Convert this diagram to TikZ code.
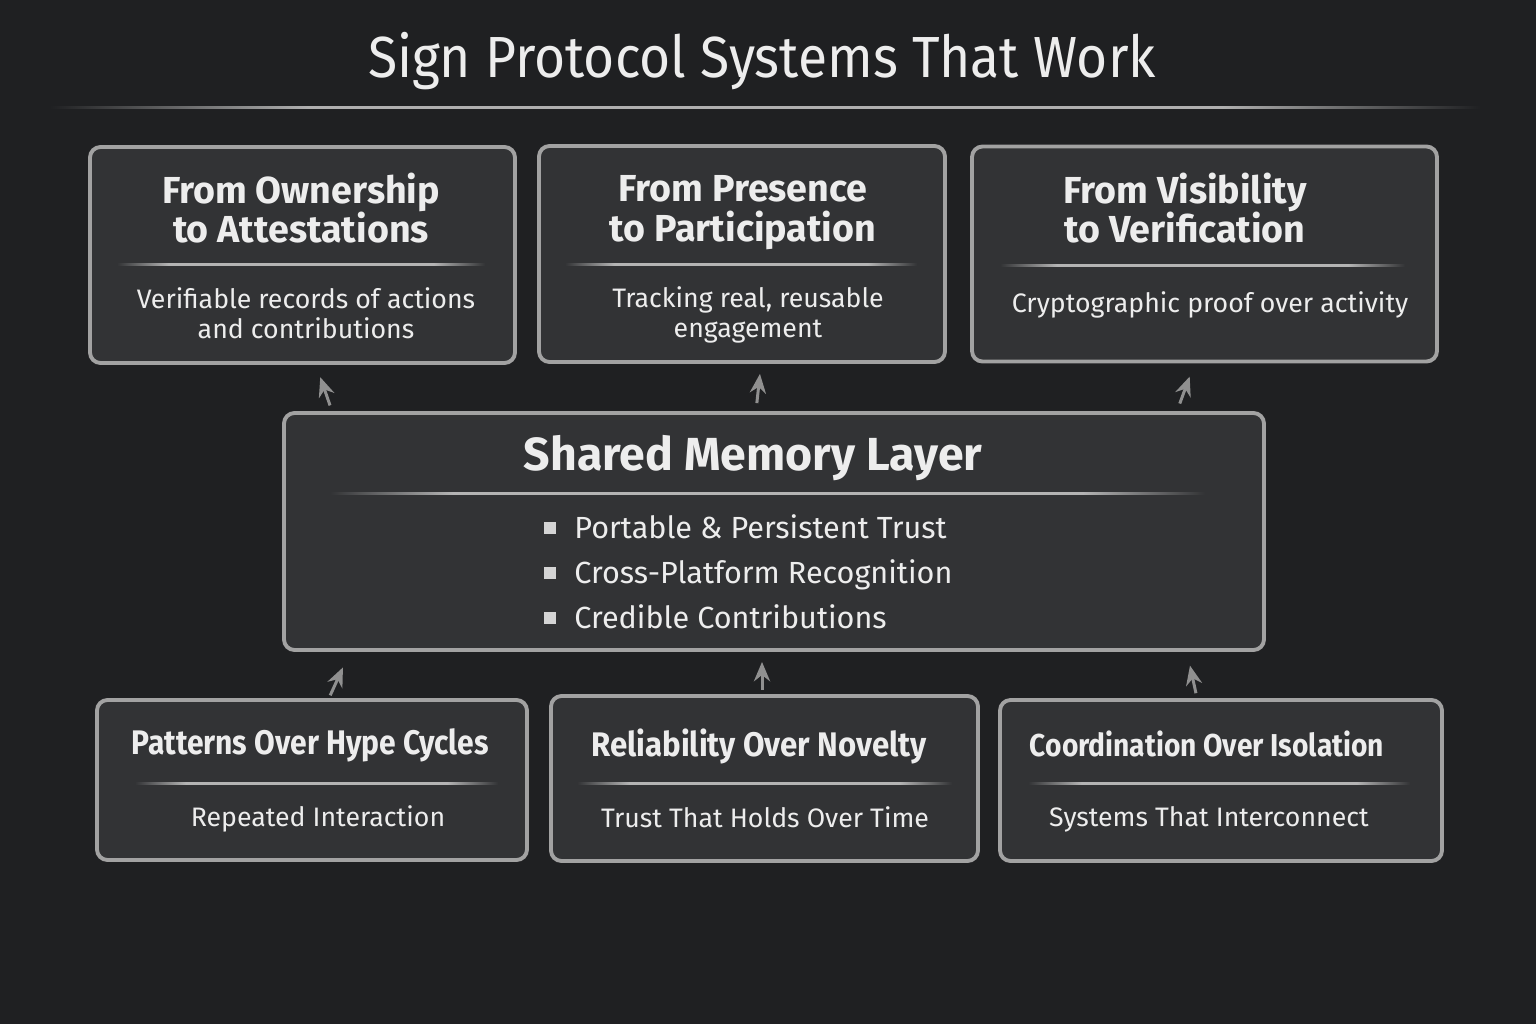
\documentclass[tikz,border=0pt]{standalone}
\usepackage{fontspec}
\setmainfont{Fira Sans}
\usetikzlibrary{arrows.meta}
\usepackage{xcolor}
\definecolor{bgcol}{HTML}{1F2022}
\definecolor{boxcol}{HTML}{323335}
\definecolor{edgecol}{HTML}{A2A2A2}
\definecolor{txtcol}{HTML}{EDEDED}
\definecolor{arrcol}{HTML}{909090}
\definecolor{rulecol}{HTML}{B4B4B4}
\definecolor{toprule}{HTML}{C8C8C8}
\pgfdeclarehorizontalshading{boxrule}{100bp}{color(0bp)=(boxcol); color(25bp)=(boxcol); color(32bp)=(rulecol); color(68bp)=(rulecol); color(75bp)=(boxcol); color(100bp)=(boxcol)}
\pgfdeclarehorizontalshading{titlerule}{100bp}{color(0bp)=(bgcol); color(25bp)=(bgcol); color(34bp)=(toprule!85!bgcol); color(66bp)=(toprule!85!bgcol); color(75bp)=(bgcol); color(100bp)=(bgcol)}

\begin{document}
\begin{tikzpicture}[
  card/.style={draw=edgecol, line width=1.1pt, fill=boxcol, rounded corners=3pt, inner sep=0pt},
  bighead/.style={text=txtcol, align=center, font=\fontsize{10.7}{11.3}\selectfont\bfseries},
  smallhead/.style={text=txtcol, align=center, font=\fontsize{9.7}{10.5}\selectfont\bfseries},
  subtext/.style={text=txtcol, align=center, font=\fontsize{7.6}{8.5}\selectfont},
  bullettext/.style={text=txtcol, anchor=base west, font=\fontsize{8.7}{9.5}\selectfont},
  bulletsq/.style={fill=txtcol!90!black, minimum size=0.12cm, inner sep=0pt},
  arr/.style={-{Stealth[length=5.5pt, width=4.6pt]}, arrcol, line width=0.85pt},
]
\useasboundingbox (0,0) rectangle (15.36,10.24);
\fill[bgcol] (0,0) rectangle (15.36,10.24);

% title and rule
\node[text=txtcol, font=\fontsize{16.5}{18}\selectfont] (title) at (7.62,9.63) {\scalebox{0.92}[1]{Sign Protocol Systems That Work}};
\shade[shading=titlerule] (0.5,9.15) rectangle (14.8,9.175);

% top row
\node[card, minimum width=4.25cm, minimum height=2.16cm] (top1) at (3.025,7.69) {};
\node[card, minimum width=4.06cm, minimum height=2.16cm] (top2) at (7.42,7.70) {};
\node[card, minimum width=4.65cm, minimum height=2.15cm] (top3) at (12.045,7.70) {};

\node[bighead] (top1h) at (3.01,8.16) {From Ownership\\to Attestations};
\node[bighead] (top2h) at (7.43,8.11) {From Presence\\to Participation};
\node[bighead] (top3h) at (11.85,8.16) {From Visibility\\to Verification};

\shade[shading=boxrule] (1.17,7.585) rectangle (4.85,7.605);
\shade[shading=boxrule] (5.65,7.585) rectangle (9.17,7.605);
\shade[shading=boxrule] (10.0,7.575) rectangle (14.05,7.595);

\node[subtext] (top1s) at (3.06,7.11) {Verifiable records of actions\\and contributions};
\node[subtext] (top2s) at (7.48,7.09) {Tracking real, reusable\\engagement};
\node[subtext] (top3s) at (12.10,7.19) {Cryptographic proof over activity};

% shared layer
\node[card, minimum width=9.80cm, minimum height=2.37cm] (mem) at (7.74,4.925) {};
\node[text=txtcol, font=\fontsize{13.2}{14}\selectfont\bfseries] (memh) at (7.53,5.66) {Shared Memory Layer};
\shade[shading=boxrule] (3.30,5.30) rectangle (12.05,5.32);
\foreach \y/\txt [count=\i] in {4.96/Portable \& Persistent Trust, 4.51/Cross-Platform Recognition, 4.06/Credible Contributions} {
  \node[bulletsq] (sq\i) at (5.50,\y) {};
  \node[bullettext] (item\i) at (5.62,\y-0.105) {\txt};
}

% bottom row
\node[card, minimum width=4.30cm, minimum height=1.60cm] (bot1) at (3.12,2.44) {};
\node[card, minimum width=4.27cm, minimum height=1.65cm] (bot2) at (7.645,2.455) {};
\node[card, minimum width=4.42cm, minimum height=1.61cm] (bot3) at (12.21,2.435) {};

\node[smallhead] (bot1h) at (3.10,2.79) {\scalebox{0.88}[1]{Patterns Over Hype Cycles}};
\node[smallhead] (bot2h) at (7.59,2.78) {\scalebox{0.915}[1]{Reliability Over Novelty}};
\node[smallhead, font=\fontsize{9}{10}\selectfont\bfseries] (bot3h) at (12.07,2.80) {\scalebox{0.89}[1]{Coordination Over Isolation}};

\shade[shading=boxrule] (1.35,2.40) rectangle (4.98,2.42);
\shade[shading=boxrule] (5.77,2.40) rectangle (9.52,2.42);
\shade[shading=boxrule] (10.28,2.40) rectangle (14.10,2.42);

\node[subtext] (bot1s) at (3.18,2.05) {Repeated Interaction};
\node[subtext] (bot2s) at (7.65,2.07) {Trust That Holds Over Time};
\node[subtext] (bot3s) at (12.09,2.05) {Systems That Interconnect};

% arrows
\draw[arr, shorten <=0.06cm, shorten >=0.13cm] ([xshift=-4.42cm]mem.north) -- ([xshift=0.135cm]top1.south);
\draw[arr, shorten <=0.08cm, shorten >=0.10cm] ([xshift=-0.18cm]mem.north) -- ([xshift=0.19cm]top2.south);
\draw[arr, shorten <=0.08cm, shorten >=0.14cm] ([xshift=4.03cm]mem.north) -- ([xshift=-0.10cm]top3.south);
\draw[arr, shorten <=0.03cm, shorten >=0.17cm] ([xshift=0.17cm]bot1.north) -- ([xshift=-4.24cm]mem.south);
\draw[arr, shorten <=0.04cm, shorten >=0.10cm] ([xshift=-0.025cm]bot2.north) -- ([xshift=-0.12cm]mem.south);
\draw[arr, shorten <=0.05cm, shorten >=0.14cm] ([xshift=-0.24cm]bot3.north) -- ([xshift=4.13cm]mem.south);
\end{tikzpicture}
\end{document}
